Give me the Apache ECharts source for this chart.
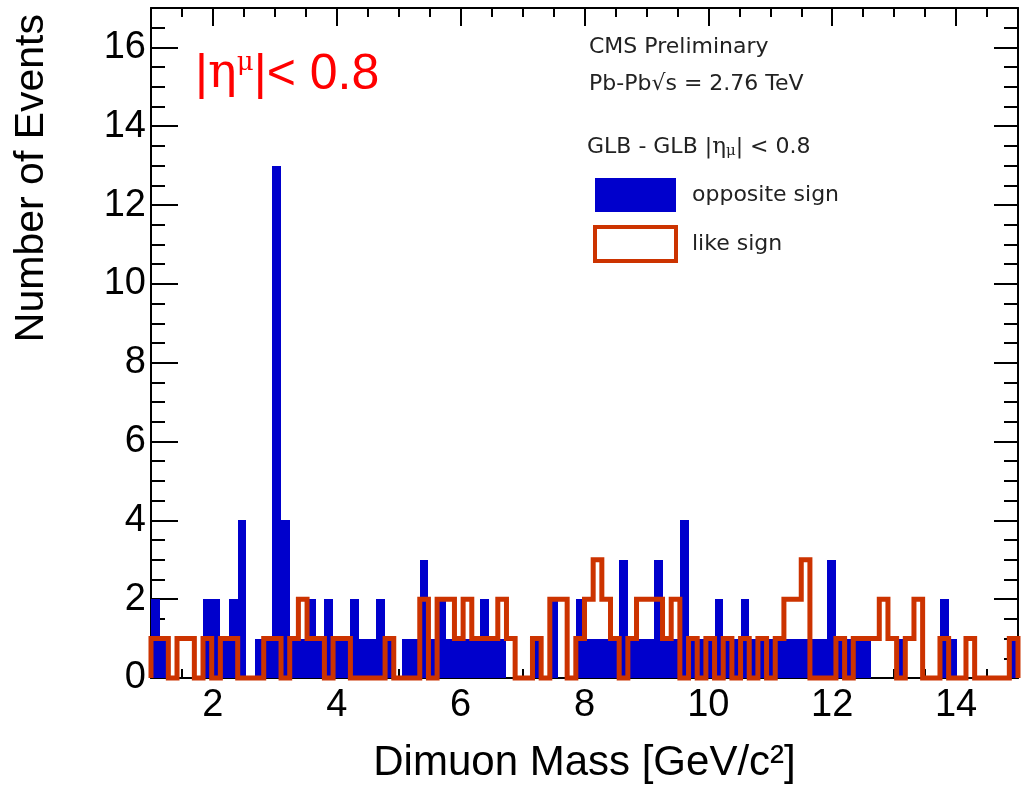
<!DOCTYPE html>
<html>
<head>
<meta charset="utf-8">
<script src="https://cdn.jsdelivr.net/npm/echarts@6/dist/echarts.min.js"></script>
<style>
  html, body {margin: 0; padding: 0; background: #fff;}
  #chart {width: 1023px; height: 794px;}
</style>
</head>
<body>
<div id="chart"></div>
<script>
// histogram binning: 100 bins between 1 and 15 GeV/c2
const xMin = 1
const xMax = 15
const binWidth = 0.14

// counts per bin
const oppositeSign = [
  2, 1, 0, 0, 0, 0, 2, 2, 1, 2,
  4, 0, 1, 1, 13, 4, 1, 1, 2, 1,
  2, 1, 1, 2, 1, 1, 2, 1, 0, 1,
  1, 3, 1, 2, 1, 1, 1, 1, 2, 1,
  1, 0, 0, 0, 1, 0, 2, 0, 0, 2,
  1, 1, 1, 1, 3, 1, 1, 1, 3, 1,
  1, 4, 1, 1, 1, 2, 1, 1, 2, 1,
  1, 1, 1, 1, 1, 1, 1, 1, 3, 1,
  1, 1, 1, 0, 0, 0, 1, 0, 0, 0,
  0, 2, 1, 0, 0, 0, 0, 0, 0, 1
]
const likeSign = [
  1, 1, 0, 1, 1, 0, 1, 0, 1, 1,
  0, 0, 0, 1, 1, 0, 1, 2, 1, 1,
  0, 1, 1, 0, 0, 0, 0, 1, 0, 0,
  0, 2, 0, 2, 2, 1, 2, 1, 1, 1,
  2, 1, 0, 0, 1, 0, 2, 2, 0, 1,
  2, 3, 2, 1, 0, 1, 2, 2, 2, 1,
  2, 0, 1, 0, 1, 0, 1, 0, 1, 0,
  1, 0, 1, 2, 2, 3, 0, 0, 0, 1,
  0, 1, 1, 1, 2, 1, 0, 1, 2, 0,
  0, 1, 0, 0, 1, 0, 0, 0, 0, 1
]

const xMajor = [2, 4, 6, 8, 10, 12, 14]
const yMajor = [0, 2, 4, 6, 8, 10, 12, 14, 16]
const xMinor = [1, 1.5, 2.5, 3, 3.5, 4.5, 5, 5.5, 6.5, 7, 7.5, 8.5, 9, 9.5, 10.5, 11, 11.5, 12.5, 13, 13.5, 14.5, 15]
const yMinor = [0.5, 1, 1.5, 2.5, 3, 3.5, 4.5, 5, 5.5, 6.5, 7, 7.5, 8.5, 9, 9.5, 10.5, 11, 11.5, 12.5, 13, 13.5, 14.5, 15, 15.5, 16.5]

const BLUE = '#0000cc'
const RED = '#cc3300'
const FONT = '"Liberation Sans", Arial, sans-serif'
const WIDE = '"DejaVu Sans", sans-serif'
const SERIF = '"DejaVu Serif", serif'

const binLow = oppositeSign.map((_, i) => xMin + i * binWidth)

// filled bars for opposite sign
const osData = oppositeSign.map((v, i) => [binLow[i], binLow[i] + binWidth, v])

// step outline for like sign
const lsData = [[xMin, 0]]
likeSign.forEach((v, i) => lsData.push([binLow[i], v]))
lsData.push([xMax, likeSign[likeSign.length - 1]])
lsData.push([xMax, 0])

const chart = echarts.init(document.getElementById('chart'))

function xAxisDef(pos, values, len, withLine, withLabel) {
  return {
    type: 'value', min: xMin, max: xMax, position: pos,
    axisLine: {show: withLine, onZero: false, lineStyle: {color: '#000', width: 2}},
    axisTick: {show: true, inside: true, length: len, customValues: values, lineStyle: {color: '#000', width: 2}},
    axisLabel: withLabel
      ? {show: true, customValues: values, fontSize: 38, fontFamily: FONT, color: '#000', margin: 9}
      : {show: false},
    splitLine: {show: false}
  }
}

function yAxisDef(pos, values, len, withLine, withLabel) {
  return {
    type: 'value', min: 0, max: 17, position: pos,
    axisLine: {show: withLine, onZero: false, lineStyle: {color: '#000', width: 2}},
    axisTick: {show: true, inside: true, length: len, customValues: values, lineStyle: {color: '#000', width: 2}},
    axisLabel: withLabel
      ? {show: true, customValues: values, fontSize: 38, fontFamily: FONT, color: '#000', margin: 5}
      : {show: false},
    splitLine: {show: false}
  }
}

const xAxes = [
  xAxisDef('bottom', xMajor, 18, true, true),
  xAxisDef('bottom', xMinor, 9, false, false),
  xAxisDef('top', xMajor, 18, true, false),
  xAxisDef('top', xMinor, 9, false, false)
]
xAxes[0].name = 'Dimuon Mass [GeV/c²]'
xAxes[0].nameLocation = 'middle'
xAxes[0].nameGap = 64
xAxes[0].nameTextStyle = {fontSize: 42, fontFamily: FONT, color: '#000'}

const yAxes = [
  yAxisDef('left', yMajor, 27, true, true),
  yAxisDef('left', yMinor, 14, false, false),
  yAxisDef('right', yMajor, 24, true, false),
  yAxisDef('right', yMinor, 14, false, false)
]

chart.setOption({
  animation: false,
  backgroundColor: '#fff',
  grid: {left: 151, right: 5, top: 8, bottom: 116},
  xAxis: xAxes,
  yAxis: yAxes,
  legend: {
    orient: 'vertical',
    left: 588, top: 173,
    itemWidth: 81, itemHeight: 34, itemGap: 13,
    textStyle: {fontSize: 22, fontFamily: WIDE, color: '#222', padding: [3, 0, 0, 11]},
    data: [
      {name: 'opposite sign', icon: 'rect'},
      {name: 'like sign', icon: 'rect', itemStyle: {color: '#fff', borderColor: RED, borderWidth: 4}}
    ]
  },
  graphic: [
    {type: 'text', x: 589, y: 47, style: {text: 'CMS Preliminary', font: '22px ' + WIDE, fill: '#222', textVerticalAlign: 'middle'}},
    {type: 'text', x: 589, y: 84, style: {text: 'Pb-Pb√s = 2.76 TeV', font: '22px ' + WIDE, fill: '#222', textVerticalAlign: 'middle'}},
    {
      type: 'text', x: 587, y: 147,
      style: {
        text: '{a|GLB - GLB |}{e|η}{s|μ}{a|| < 0.8}',
        textVerticalAlign: 'middle',
        rich: {
          a: {fontSize: 22, fontFamily: WIDE, fill: '#222'},
          e: {fontSize: 23, fontFamily: SERIF, fill: '#222'},
          s: {fontSize: 15, fontFamily: SERIF, fill: '#222', verticalAlign: 'bottom', padding: [8, 0, 0, 0]}
        }
      }
    },
    {
      type: 'text', x: 195, y: 75,
      style: {
        text: '{a||}{e|η}{s|μ}{a||< 0.8}',
        textVerticalAlign: 'middle',
        rich: {
          a: {fontSize: 50, fontFamily: FONT, fill: '#ff0000'},
          e: {fontSize: 48, fontFamily: SERIF, fill: '#ff0000'},
          s: {fontSize: 26, fontFamily: SERIF, fill: '#ff0000', verticalAlign: 'top', padding: [0, 0, 18, 0]}
        }
      }
    },
    {
      type: 'text', x: 32, y: 14, rotation: Math.PI / 2,
      style: {text: 'Number of Events', font: '41px ' + FONT, fill: '#000', textAlign: 'right', textVerticalAlign: 'middle'}
    }
  ],
  series: [
    {
      name: 'opposite sign',
      type: 'custom',
      xAxisIndex: 0, yAxisIndex: 0,
      itemStyle: {color: BLUE},
      encode: {x: [0, 1], y: 2},
      data: osData,
      z: 2,
      renderItem: (params, api) => {
        const v = api.value(2)
        if (!v) return
        const p0 = api.coord([api.value(0), v])
        const p1 = api.coord([api.value(1), 0])
        const x0 = Math.round(p0[0])
        const x1 = Math.round(p1[0])
        return {
          type: 'rect',
          shape: {x: x0, y: Math.round(p0[1]), width: x1 - x0, height: Math.round(p1[1]) - Math.round(p0[1])},
          style: {fill: BLUE}
        }
      }
    },
    {
      name: 'like sign',
      type: 'line',
      xAxisIndex: 0, yAxisIndex: 0,
      step: 'end',
      symbol: 'none',
      clip: false,
      z: 3,
      itemStyle: {color: RED},
      lineStyle: {color: RED, width: 5, join: 'miter'},
      data: lsData
    }
  ]
})
</script>
</body>
</html>
